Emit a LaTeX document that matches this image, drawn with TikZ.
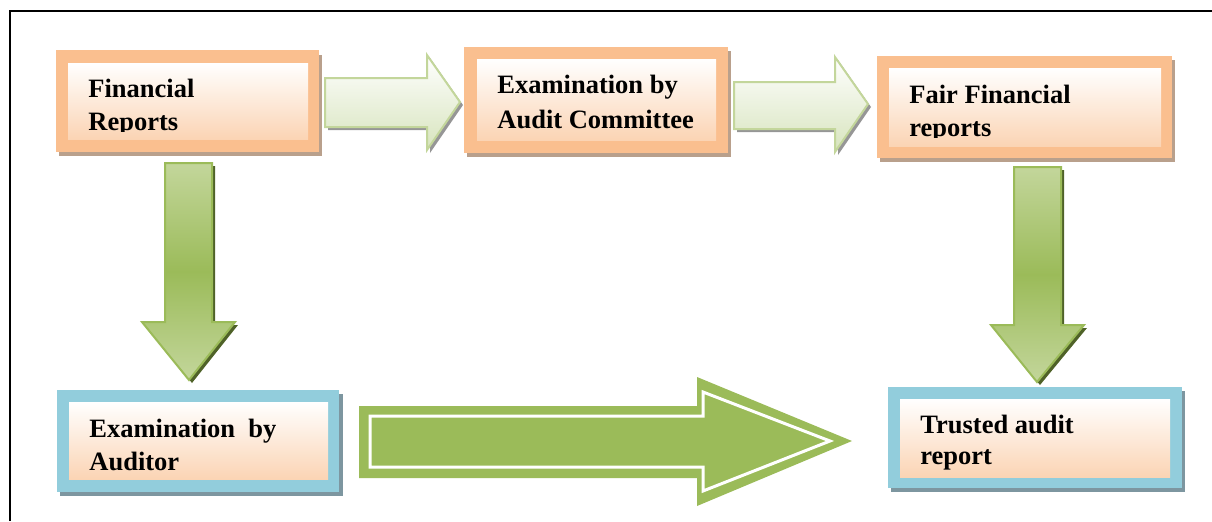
\documentclass[tikz,border=0pt]{standalone}
\usepackage{fontspec}
\setmainfont{Liberation Serif}
\definecolor{orng}{HTML}{FABF8F}
\definecolor{peach}{HTML}{FBD4B4}
\definecolor{blu}{HTML}{92CDDC}
\definecolor{lgreen}{HTML}{C3D69B}
\definecolor{pgreen}{HTML}{D7E4BD}
\definecolor{mgreen}{HTML}{9BBB59}
\definecolor{dgreen}{HTML}{4F6228}
\definecolor{shO}{RGB}{185,160,140}
\definecolor{shB}{RGB}{125,150,160}
\definecolor{shG}{RGB}{150,150,150}
\tikzset{
  txt/.style={anchor=base west, inner sep=0pt, font=\bfseries\fontsize{13.25}{16.5}\selectfont},
  inner/.style={top color=white, bottom color=peach},
  larrow/.style={top color=white, bottom color=pgreen, draw=lgreen, line width=1pt, line join=miter},
  darrow/.style={top color=lgreen, bottom color=lgreen, middle color=mgreen, draw=mgreen, line width=1pt, line join=miter},
}
\begin{document}
\begin{tikzpicture}[x=0.5pt,y=-0.5pt]
\useasboundingbox (0,0) rectangle (1212,521);
% frame
\draw[line width=1.1pt] (10,521) -- (10,11) -- (1212,11);

% ---- box 1: Financial Reports
\fill[shO] (59,55) rectangle (322,156);
\fill[orng] (56,50) rectangle (319,152);
\shade[inner] (68,63) rectangle (308,139);
\begin{scope}
\clip (68,63) rectangle (308,131);
\node[txt] (t1a) at (88,97) {Financial};
\node[txt] (t1b) at (88,130) {Reports};
\end{scope}

% ---- box 2: Examination by Audit Committee
\fill[shO] (467,51) rectangle (731,157);
\fill[orng] (464,47) rectangle (728,153);
\shade[inner] (477,59) rectangle (716,140);
\node[txt] (t2a) at (497,93) {Examination by};
\node[txt] (t2b) at (497,128) {Audit Committee};

% ---- box 3: Fair Financial reports
\fill[shO] (880,60) rectangle (1175,162);
\fill[orng] (877,56) rectangle (1172,158);
\shade[inner] (889,68) rectangle (1161,146);
\begin{scope}
\clip (889,68) rectangle (1161,137);
\node[txt] (t3a) at (909,103) {Fair Financial};
\node[txt] (t3b) at (909,136) {reports};
\end{scope}

% ---- box 4: Examination by Auditor
\fill[shB] (60,394) rectangle (343,496);
\fill[blu] (57,390) rectangle (339,492);
\shade[inner] (69,402) rectangle (328,479);
\node[txt] (t4a) at (89,437) {Examination\ \ by};
\node[txt] (t4b) at (89,470) {Auditor};

% ---- box 5: Trusted audit report
\fill[shB] (891,391) rectangle (1185,492);
\fill[blu] (888,387) rectangle (1182,488);
\shade[inner] (900,399) rectangle (1170,477);
\node[txt] (t5a) at (920,433) {Trusted audit};
\node[txt] (t5b) at (920,464) {report};

% ---- light right arrows
\fill[shG] (328,81) -- (430,81) -- (430,58) -- (463,105) -- (430,153) -- (430,130) -- (328,130) -- cycle;
\path[larrow] (325,78) -- (427,78) -- (427,55) -- (460,102) -- (427,150) -- (427,127) -- (325,127) -- cycle;
\fill[shG] (737,85) -- (838,85) -- (838,60) -- (871,107) -- (838,155) -- (838,132) -- (737,132) -- cycle;
\path[larrow] (734,82) -- (835,82) -- (835,57) -- (868,104) -- (835,152) -- (835,129) -- (734,129) -- cycle;

% ---- down arrows
\fill[dgreen] (168,166) -- (215,166) -- (215,325) -- (238,325) -- (192,383) -- (145,325) -- (168,325) -- cycle;
\path[darrow] (165,163) -- (212,163) -- (212,322) -- (235,322) -- (189,380) -- (142,322) -- (165,322) -- cycle;
\fill[dgreen] (1017,170) -- (1064,170) -- (1064,328) -- (1087,328) -- (1040,385) -- (994,328) -- (1017,328) -- cycle;
\path[darrow] (1014,167) -- (1061,167) -- (1061,325) -- (1084,325) -- (1037,382) -- (991,325) -- (1014,325) -- cycle;

% ---- big right arrow
\fill[mgreen] (359,406) -- (697,406) -- (697,377) -- (852,441) -- (697,506) -- (697,478) -- (359,478) -- cycle;
\draw[white, line width=1.5pt, line join=miter] (370,416) -- (703,416) -- (703,392) -- (830,441) -- (703,491) -- (703,467) -- (370,467) -- cycle;
\end{tikzpicture}
\end{document}
